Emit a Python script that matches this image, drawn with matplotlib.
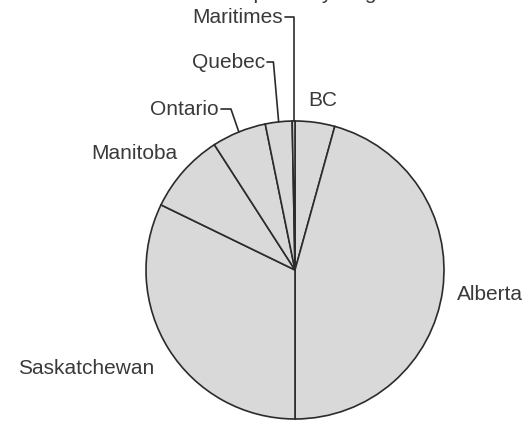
import numpy as np
import matplotlib
matplotlib.use('Agg')
from matplotlib import pyplot as plt

# slices, clockwise from 12 o'clock
regions = ['BC', 'Alberta', 'Saskatchewan', 'Manitoba', 'Ontario', 'Quebec', 'Maritimes']
shares = [4.3, 45.7, 32.2, 8.7, 5.9, 2.9, 0.3]
title = 'Cropland by Region'

plt.rcParams['font.family'] = ['Liberation Sans', 'DejaVu Sans']
W, H = 527, 423
txt_color = '#3a3a3a'
edge = '#2b2b2b'

fig = plt.figure(figsize=(W / 100, H / 100), dpi=100)
ax = fig.add_axes([0, 0, 1, 1])
ax.set_xlim(0, W)
ax.set_ylim(0, H)
ax.set_aspect('equal')
ax.axis('off')

cx, cy, r = 295, H - 270, 149
wedges, _ = ax.pie(shares, startangle=90, counterclock=False, center=(cx, cy),
                   radius=r, frame=True,
                   colors=['#d9d9d9'] * len(shares),
                   wedgeprops=dict(edgecolor=edge, linewidth=1.2))
ax.set_xlim(0, W)
ax.set_ylim(0, H)
ax.axis('off')


def edge_point(w):
    a = np.deg2rad((w.theta1 + w.theta2) / 2)
    return cx + r * np.cos(a), cy + r * np.sin(a)


fs = 15
# plain labels
ax.text(308, H - 100, 'BC', fontsize=fs, color=txt_color, ha='left', va='center')
ax.text(457, H - 295, 'Alberta', fontsize=fs, color=txt_color, ha='left', va='center')
ax.text(18, H - 368, 'Saskatchewan', fontsize=fs, color=txt_color, ha='left', va='center')
ax.text(177, H - 153, 'Manitoba', fontsize=fs, color=txt_color, ha='right', va='center')

# labels with leader lines: (index, text right end x, y, final segment angle)
leaders = [(4, 219, 109, 109), (5, 265, 62, 95), (6, 283, 17, 90)]
for i, tx, ty, ang in leaders:
    ax.text(tx, H - ty, regions[i], fontsize=fs, color=txt_color, ha='right', va='center')
    ax.annotate('', xy=edge_point(wedges[i]), xytext=(tx + 2, H - ty),
                arrowprops=dict(arrowstyle='-', color=edge, lw=1.2, shrinkA=0, shrinkB=0,
                                connectionstyle='angle,angleA=0,angleB=%d,rad=0' % ang))

# title, mostly above the visible area
ax.text(405, H + 1, title, fontsize=fs, color=txt_color, ha='right', va='baseline')

fig.savefig('out.png', dpi=100)
